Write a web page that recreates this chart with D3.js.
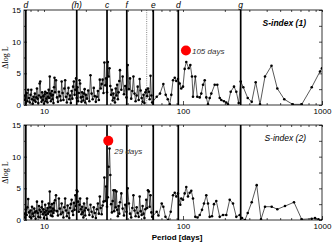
<!DOCTYPE html>
<html>
<head>
<meta charset="utf-8">
<script src="https://cdn.jsdelivr.net/npm/d3@7"></script>
<style>
  body { margin: 0; background: #fff; }
  text { font-family: "Liberation Sans", Arial, sans-serif; }
</style>
</head>
<body>
<div id="chart"></div>
<script>
// periodogram grid, short periods (shared by both panels)
const densePeriods = [
  7.2,7.3,7.4,7.5,7.6,7.7,7.8,7.9,8.0,8.1,8.2,8.3,8.4,8.5,8.6,8.7,8.8,8.9,9.0,9.1,9.2,9.3,9.4,9.5,9.6,9.7,9.8,9.9,10.0,10.1,10.2,10.3,10.4,10.5,10.6,10.7,10.8,10.9,11.0,11.1,11.2,11.3,11.4,11.5,11.6,11.7,11.8,11.9,12.0,
  12.2,12.4,12.6,12.8,13.0,13.2,13.4,13.6,13.8,14.0,14.2,14.4,14.6,14.8,15.0,15.2,15.4,15.6,15.8,16.0,16.2,16.4,16.6,16.8,17.0,17.2,17.4,17.6,17.8,18.0,18.2,18.4,18.6,18.8,19.0,19.2,19.4,19.6,19.8,20.0,
  20.4,20.8,21.2,21.6,22.0,22.4,22.8,23.2,23.6,24.0,24.4,24.8,25.2,25.6,26.0,26.4,26.8,27.2,27.6,28.0,28.4,28.8,29.2,29.6,30.0,30.4,30.8,31.2,31.6,32.0,32.4,32.8,33.2,33.6,34.0,34.4,34.8,35.2,
  36.0,36.8,37.6,38.4,39.2,40.0,40.8,41.6,42.4,43.2,44.0,44.8,45.6,46.4,47.2,48.0,48.8,49.6,50.4,51.2,52.0,52.8,53.6,54.4,55.2,56.0,56.8,57.6,58.4,59.2,60.0
];

// S-index (1)
const period1 = densePeriods.concat([
  64.7,68.3,72.2,75.1,77.7,80.2,82.4,84.8,87.2,89.5,92.0,94.7,97.2,100,102.8,105.6,109.9,112.9,116.1,118.0,
  122.6,126.7,131.9,135.4,139.3,143.3,147.1,151.3,155.6,159.8,169.1,176.5,183.7,188.6,197.2,204.9,210.7,220.4,232.8,241.8,
  251.6,260.1,271.6,292.2,312.1,333.4,358.1,389.0,433.2,476.9,535.5,615.5,714.5,843.4,967.4,1000
]);
const logL1 = [
  0.8,1.5,0.3,1.9,0.6,2.4,1.1,0.4,1.6,2.4,0.9,0.2,1.3,0.7,1.8,0.5,1.2,2.6,1.0,0.3,1.5,3.4,3.7,1.2,0.5,2.0,0.8,1.4,0.2,1.7,2.1,0.6,1.0,1.9,0.4,1.3,2.4,1.1,4.5,1.8,0.6,1.5,2.2,0.9,1.6,0.3,2.8,4.3,2.0,
  3.9,1.2,0.5,2.1,1.4,0.7,3.7,1.9,0.8,2.6,3.9,1.3,0.4,1.8,2.7,0.9,1.5,0.3,2.2,1.0,2.9,3.7,1.6,2.4,4.2,1.1,2.8,0.6,1.9,3.9,3.4,1.2,0.5,2.0,1.3,0.7,1.8,2.5,0.4,1.6,
  1.0,2.3,0.6,4.7,1.8,0.9,2.7,1.4,0.5,1.3,2.2,0.8,4.0,2.6,3.3,4.0,1.9,6.7,3.1,4.2,2.0,6.8,4.5,5.8,3.0,1.6,2.4,0.7,1.8,1.1,0.4,2.6,1.5,3.2,0.9,2.0,3.8,5.5,
  2.4,4.5,1.7,3.0,1.2,6.3,2.5,4.2,1.0,2.2,4.5,1.8,0.6,1.5,2.9,0.8,4.1,2.3,1.1,0.5,1.6,0.3,2.0,2.4,1.4,2.6,2.1,0.9,4.6,1.5,0.4,
  1.3,1.8,3.3,1.6,0.9,0.1,1.6,3.9,4.3,3.8,4.1,3.4,2.6,2.9,5.7,6.8,5.8,6.3,4.5,1.3,
  4.5,1.3,1.2,1.8,3.2,3.9,1.2,0.1,1.1,1.8,3.2,3.2,1.1,0.8,0.6,0.4,0.1,2.1,2.9,2.1,
  0.3,3.7,2.8,1.1,0.5,3.6,0.1,4.5,6.2,2.6,0.9,0.1,0.1,2.8,5.3,5.8
];

// S-index (2)
const period2 = densePeriods.concat([
  64.7,66.6,70.3,72.2,74.8,78.0,81.6,84.8,87.2,89.5,92.0,95.6,97.2,100,102.8,105.6,108.6,111.7,114.7,118.0,
  122.6,127.2,131.9,137.0,141.6,147.1,151.3,155.6,161.7,167.1,173.6,183.7,194.0,204.9,216.8,229.0,241.8,255.8,265.8,279.3,
  292.2,312.1,339.0,364.1,389.0,434.6,476.9,541.7,628.8,714.5,843.4,890.6,943.6,1000
]);
const logL2 = [
  1.0,0.4,1.7,0.8,2.0,3.3,1.2,0.5,1.5,0.3,2.1,1.0,0.6,1.8,1.2,0.2,1.4,2.9,1.1,0.5,2.2,1.6,0.4,1.3,2.0,2.9,0.9,1.7,0.3,1.2,2.4,0.8,1.5,0.2,1.9,1.0,2.6,1.3,4.5,2.0,0.7,1.4,2.5,0.6,1.8,1.1,2.7,1.5,3.1,
  3.9,1.4,0.7,3.4,1.8,0.9,2.6,1.2,0.4,2.0,3.4,1.5,0.6,2.3,1.1,0.3,1.9,2.5,3.2,1.4,0.8,2.7,1.6,3.9,2.2,4.7,4.5,2.9,1.3,2.4,3.4,1.7,0.9,2.1,1.2,0.4,2.6,1.5,0.7,1.9,
  3.4,1.6,0.8,2.4,1.3,0.5,2.0,1.1,0.3,1.7,2.6,1.0,3.7,1.9,0.9,2.3,2.9,6.7,3.0,5.3,2.1,3.6,8.4,11.3,7.1,2.5,1.2,3.0,4.7,1.4,4.7,2.0,4.5,1.6,0.6,2.2,1.0,2.8,
  4.2,1.8,0.7,2.4,1.3,5.0,2.6,1.0,0.4,1.9,3.9,1.5,0.6,2.0,1.1,0.5,3.7,1.4,0.8,2.2,1.0,0.3,1.7,3.2,1.9,4.7,4.5,2.1,3.9,1.2,0.5,
  1.3,0.7,2.6,2.1,0.5,0.0,1.3,3.9,4.3,3.7,4.2,2.4,3.4,3.2,4.2,5.2,3.7,4.3,4.6,3.4,
  0.5,0.4,0.8,1.6,2.6,3.9,2.6,0.5,0.6,2.5,3.0,0.5,0.8,0.8,3.2,2.6,0.5,0.8,0.3,0.0,
  1.1,2.8,5.5,0.1,2.1,2.1,1.7,2.2,2.8,0.1,0.2,0.3,0.1,0.0
];

// marked periods
const markPeriods = [7.4, 17.2, 28.4, 39.4, 61.1, 92.5, 260];
const markLabels  = ["d", "(h)", "c", "f", "e", "d", "g"];
const dottedPeriod = 54.8;

// highlighted peaks
const peakPeriods = [105, 29];
const peakValues  = [8.6, 12.5];
const peakLabels  = ["105 days", "29 days"];
const panelTitles = ["S-index (1)", "S-index (2)"];

const yTicks = [0, 5, 10, 15];
const yMinor = [2.5, 7.5, 12.5];
const xTicks = [10, 100, 1000];

const W = 332, H = 242;
const svg = d3.select("#chart").append("svg").attr("width", W).attr("height", H);

const x = d3.scaleLog().domain([7.18, 1000]).range([24, 322]);
var xMinor = [];
[1, 10, 100].forEach(m => { for (let k = 2; k <= 9; k++) if (k*m > 7.18) xMinor.push(k*m); });

const panels = [
  {top: 10, bottom: 105, period: period1, value: logL1, dotted: true},
  {top: 125, bottom: 220, period: period2, value: logL2, dotted: false}
];

panels.forEach((p, i) => {
  const y = d3.scaleLinear().domain([0, 15]).range([p.bottom, p.top]);
  const g = svg.append("g");

  g.append("clipPath").attr("id", "clip" + i)
    .append("rect").attr("x", 24).attr("y", p.top).attr("width", 298).attr("height", p.bottom - p.top);

  const plot = g.append("g").attr("clip-path", "url(#clip" + i + ")");

  if (p.dotted) {
    plot.append("line")
      .attr("x1", x(dottedPeriod)).attr("x2", x(dottedPeriod))
      .attr("y1", p.top).attr("y2", p.bottom)
      .attr("stroke", "#555").attr("stroke-width", 0.7).attr("stroke-dasharray", "1,1.2");
  }

  var pts = p.period.map((d, j) => [d, p.value[j]]);
  var line = d3.line().x(d => x(d[0])).y(d => y(d[1]));
  plot.append("path").attr("d", line(pts))
    .attr("fill", "none").attr("stroke", "#111").attr("stroke-width", 0.7);
  plot.selectAll("circle.pt").data(pts).enter().append("circle")
    .attr("class", "pt")
    .attr("cx", d => x(d[0])).attr("cy", d => y(d[1]))
    .attr("r", 1.3).attr("fill", "#000");

  plot.selectAll("line.mark").data(markPeriods).enter().append("line")
    .attr("class", "mark")
    .attr("x1", d => x(d)).attr("x2", d => x(d))
    .attr("y1", p.top).attr("y2", p.bottom)
    .attr("stroke", "#000").attr("stroke-width", 1.7);

  // axes, ticks inside
  g.append("g").attr("transform", "translate(24,0)")
    .call(d3.axisLeft(y).tickValues(yTicks).tickSize(-3).tickPadding(3))
    .call(a => a.select(".domain").remove())
    .call(a => a.selectAll("text").attr("font-size", 8).attr("font-family", "Liberation Sans"));
  g.append("g").attr("transform", "translate(24,0)")
    .call(d3.axisLeft(y).tickValues(yMinor).tickSize(-2).tickFormat(""))
    .call(a => a.select(".domain").remove());
  g.append("g").attr("transform", "translate(322,0)")
    .call(d3.axisRight(y).tickValues(yTicks.concat(yMinor)).tickSize(-3).tickFormat(""))
    .call(a => a.select(".domain").remove());

  g.append("g").attr("transform", "translate(0," + p.bottom + ")")
    .call(d3.axisBottom(x).tickValues(xTicks).tickSize(-4).tickPadding(3).tickFormat(d3.format("d")))
    .call(a => a.select(".domain").remove())
    .call(a => a.selectAll("text").attr("font-size", 8).attr("font-family", "Liberation Sans"));
  g.append("g").attr("transform", "translate(0," + p.bottom + ")")
    .call(d3.axisBottom(x).tickValues(xMinor).tickSize(-2).tickFormat(""))
    .call(a => a.select(".domain").remove());
  g.append("g").attr("transform", "translate(0," + p.top + ")")
    .call(d3.axisTop(x).tickValues(xTicks.concat(xMinor)).tickSize(-2).tickFormat(""))
    .call(a => a.select(".domain").remove());
  g.selectAll(".tick line").attr("stroke", "#000").attr("stroke-width", 0.7);

  g.append("rect").attr("x", 24).attr("y", p.top).attr("width", 298).attr("height", p.bottom - p.top)
    .attr("fill", "none").attr("stroke", "#000").attr("stroke-width", 0.8);

  g.append("text")
    .attr("transform", "translate(8," + ((p.top + p.bottom) / 2) + ") rotate(-90)")
    .attr("text-anchor", "middle").attr("font-size", 8)
    .style("font-family", "'Liberation Serif', serif")
    .text("\u0394log L");

  g.append("text").attr("x", 306).attr("y", p.top + 16)
    .attr("text-anchor", "end").attr("font-size", 8.5)
    .attr("font-style", "italic").attr("font-weight", i == 0 ? "bold" : "normal")
    .text(panelTitles[i]);

  g.append("circle")
    .attr("cx", x(peakPeriods[i])).attr("cy", y(peakValues[i]))
    .attr("r", 5).attr("fill", "#f00");
  g.append("text")
    .attr("x", x(peakPeriods[i]) + 6).attr("y", y(peakValues[i]) + (i == 0 ? 3 : 13))
    .attr("font-size", 8).attr("font-style", "italic").attr("fill", "#333")
    .text(peakLabels[i]);
});

svg.selectAll("text.mlab").data(markPeriods).enter().append("text")
  .attr("class", "mlab")
  .attr("x", d => x(d)).attr("y", 8)
  .attr("text-anchor", "middle").attr("font-size", 8.5).attr("font-style", "italic")
  .text((d, i) => markLabels[i]);

svg.append("text").attr("x", 177).attr("y", 240)
  .attr("text-anchor", "middle").attr("font-size", 8).attr("font-weight", "bold")
  .text("Period [days]");
</script>
</body>
</html>
